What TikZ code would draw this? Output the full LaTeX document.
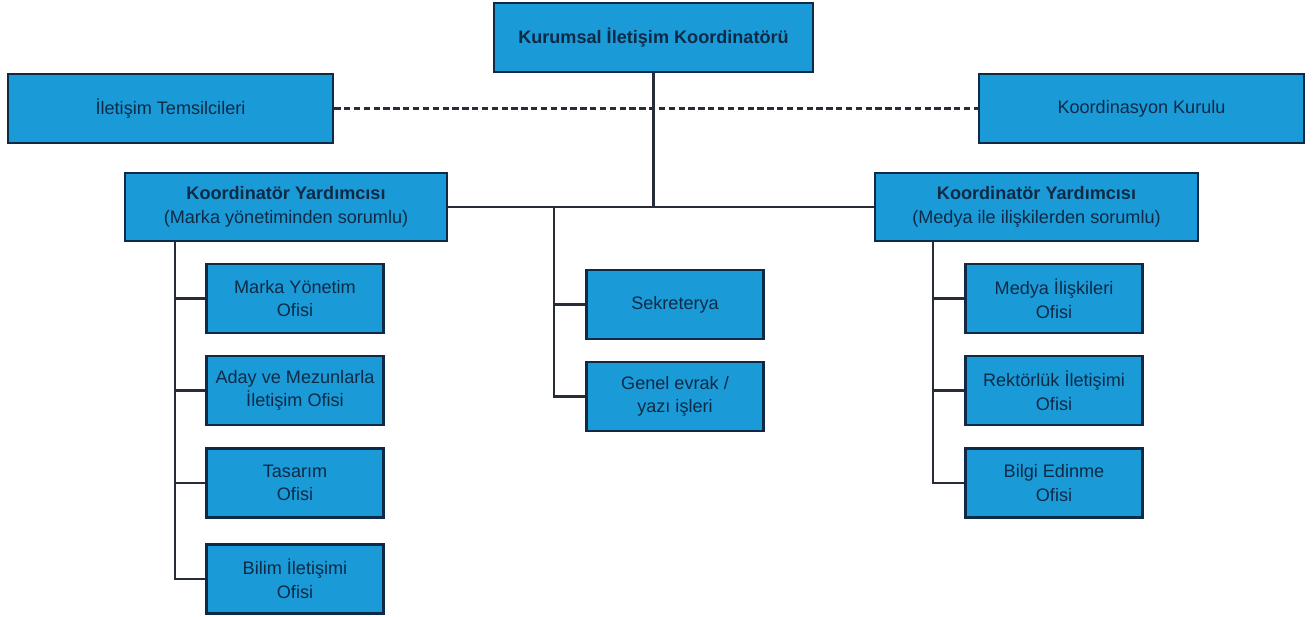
\documentclass[tikz,border=0pt]{standalone}
\usepackage{fontspec}
\setmainfont{Liberation Sans}
\usetikzlibrary{positioning}
\definecolor{boxblue}{HTML}{1A9BD7}
\definecolor{navy}{HTML}{0E2A47}
\definecolor{linegray}{HTML}{272D36}

\begin{document}
\begin{tikzpicture}[x=0.02cm,y=-0.02cm,
      every node/.style={inner sep=0pt,align=center,text=navy,
        font=\fontsize{10.3}{13.5}\selectfont},
      unit/.style={draw=navy,line width=1.5pt,fill=boxblue,
        minimum height=1.38cm},
      wide/.style={unit,minimum width=6.5cm},
      office/.style={unit,minimum width=3.54cm},
      link/.style={draw=linegray,line width=1.5pt}]
      \useasboundingbox(0,0)rectangle(1313,617);
      % top level
      \node[unit,minimum width=6.38cm](koord)at(653.5,37.5)
        {\textbf{Kurumsal İletişim Koordinatörü}};
      \node[wide](temsil)at(170.5,108.5){İletişim Temsilcileri};
      \node[wide](kurul)at(1141.5,108.5){Koordinasyon Kurulu};
      \node[unit,minimum width=6.44cm,minimum height=1.36cm](yardA)at(286,207)
        {\textbf{Koordinatör Yardımcısı}\\(Marka yönetiminden sorumlu)};
      \node[unit,minimum width=6.46cm,minimum height=1.36cm](yardB)at(1036.5,207)
        {\textbf{Koordinatör Yardımcısı}\\(Medya ile ilişkilerden sorumlu)};
      % offices
      \node[office](marka)at(295,298.5){Marka Yönetim\\Ofisi};
      \node[office](aday)at(295,390.5){Aday ve Mezunlarla\\İletişim Ofisi};
      \node[office](tasarim)at(295,483){Tasarım\\Ofisi};
      \node[office](bilim)at(295,579){Bilim İletişimi\\Ofisi};
      \node[office](sekr)at(675,304.5){Sekreterya};
      \node[office](evrak)at(675,396.5){Genel evrak /\\yazı işleri};
      \node[office](medya)at(1054,298.5){Medya İlişkileri\\Ofisi};
      \node[office](rektor)at(1054,390.5){Rektörlük İletişimi\\Ofisi};
      \node[office](bilgi)at(1054,483){Bilgi Edinme\\Ofisi};
      % connectors
      \draw[link,dash pattern=on 3.6pt off 2pt](temsil)--(kurul);
      \draw[link](koord.south)--(koord.south|-yardA.east);
      \draw[link](yardA)--(yardB);
      \coordinate(legA)at(175,241);
      \coordinate(legB)at(933,241);
      \coordinate(legC)at(554,207);
      \foreach\b in{marka,aday,tasarim,bilim}\draw[link](legA)|-(\b.west);
      \foreach\b in{medya,rektor,bilgi}\draw[link](legB)|-(\b.west);
      \foreach\b in{sekr,evrak}\draw[link](legC)|-(\b.west);
    \end{tikzpicture}
\end{document}
